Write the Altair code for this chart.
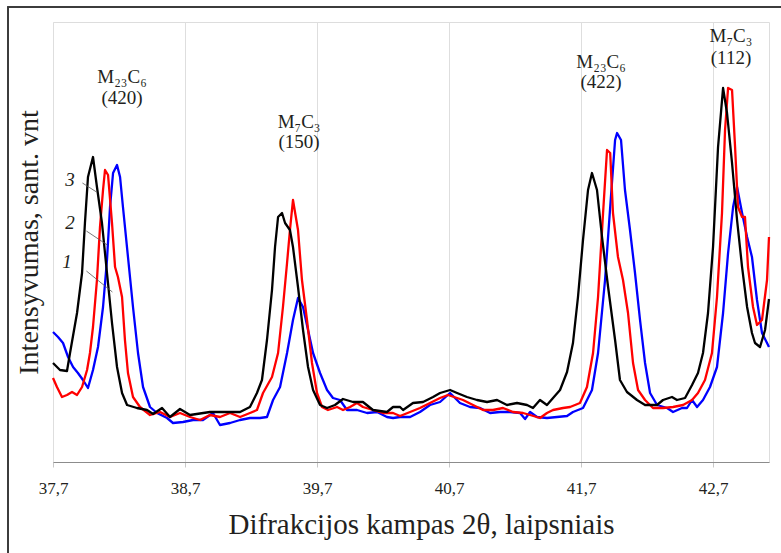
import altair as alt
import pandas as pd

# ---- data (2θ in degrees, intensity in arbitrary units) ----
x_black = [37.700, 37.753, 37.806, 37.829, 37.882, 37.920, 37.942, 37.965, 38.003, 38.033,
           38.071, 38.109, 38.147, 38.185, 38.223, 38.261, 38.336, 38.412, 38.458, 38.526,
           38.586, 38.662, 38.738, 38.889, 39.041, 39.117, 39.192, 39.245, 39.283, 39.321,
           39.359, 39.382, 39.405, 39.435, 39.458, 39.495, 39.518, 39.556, 39.594, 39.632,
           39.670, 39.723, 39.776, 39.836, 39.897, 39.973, 40.048, 40.124, 40.230, 40.276,
           40.329, 40.352, 40.427, 40.503, 40.579, 40.632, 40.708, 40.761, 40.836, 40.912,
           40.988, 41.064, 41.139, 41.215, 41.291, 41.336, 41.389, 41.442, 41.488, 41.541,
           41.594, 41.639, 41.677, 41.715, 41.753, 41.783, 41.821, 41.859, 41.905, 41.958,
           41.995, 42.048, 42.124, 42.185, 42.276, 42.321, 42.389, 42.427, 42.488, 42.541,
           42.586, 42.624, 42.662, 42.700, 42.738, 42.776, 42.806, 42.844, 42.882, 42.920,
           42.958, 42.995, 43.018, 43.056, 43.094, 43.124]
y_black = [99, 92, 91, 109, 149, 189, 239, 285, 305, 275,
           239, 189, 139, 95, 69, 57, 54, 52, 48, 54,
           45, 53, 47, 50, 50, 50, 55, 69, 82, 122,
           172, 215, 245, 249, 239, 232, 215, 175, 132, 95,
           72, 57, 54, 57, 63, 60, 60, 52, 50, 55,
           55, 52, 59, 60, 65, 69, 72, 69, 65, 62,
           60, 62, 57, 59, 57, 54, 62, 57, 64, 72,
           90, 119, 165, 222, 272, 289, 272, 225, 175, 122,
           82, 70, 62, 57, 57, 62, 65, 62, 64, 77,
           89, 109, 149, 215, 315, 374, 349, 299, 242, 195,
           155, 129, 119, 115, 132, 163]

x_red = [37.700, 37.730, 37.768, 37.806, 37.844, 37.882, 37.920, 37.958, 37.980, 38.003,
         38.033, 38.056, 38.079, 38.094, 38.117, 38.147, 38.170, 38.192, 38.223, 38.245,
         38.268, 38.306, 38.359, 38.435, 38.511, 38.586, 38.662, 38.738, 38.814, 38.889,
         38.965, 39.041, 39.117, 39.192, 39.245, 39.291, 39.359, 39.405, 39.442, 39.473,
         39.495, 39.518, 39.556, 39.586, 39.624, 39.662, 39.700, 39.738, 39.783, 39.852,
         39.897, 39.950, 40.003, 40.048, 40.124, 40.200, 40.276, 40.329, 40.405, 40.480,
         40.556, 40.632, 40.692, 40.761, 40.806, 40.882, 40.958, 41.033, 41.109, 41.185,
         41.261, 41.314, 41.389, 41.442, 41.488, 41.564, 41.617, 41.692, 41.745, 41.791,
         41.829, 41.867, 41.897, 41.921, 41.942, 41.980, 42.018, 42.056, 42.094, 42.132,
         42.185, 42.245, 42.321, 42.397, 42.473, 42.541, 42.586, 42.639, 42.692, 42.730,
         42.768, 42.791, 42.814, 42.844, 42.867, 42.889, 42.920, 42.942, 42.965, 43.003,
         43.033, 43.071, 43.109, 43.124]
y_red = [84, 75, 65, 67, 70, 67, 75, 92, 109, 135,
         182, 235, 272, 292, 287, 239, 195, 185, 165, 122,
         89, 65, 55, 47, 50, 45, 49, 45, 42, 47,
         45, 49, 45, 49, 52, 69, 85, 109, 155, 199,
         232, 262, 232, 182, 142, 99, 69, 55, 52, 55,
         52, 55, 59, 55, 52, 49, 49, 46, 50, 54,
         59, 64, 67, 64, 62, 57, 52, 52, 54, 50,
         49, 47, 44, 49, 52, 54, 55, 59, 75, 109,
         165, 249, 312, 309, 249, 205, 182, 149, 99, 72,
         62, 54, 54, 55, 57, 62, 69, 82, 109, 165,
         249, 332, 374, 372, 315, 255, 245, 245, 195, 155,
         137, 142, 182, 225]

x_blue = [37.700, 37.738, 37.776, 37.814, 37.852, 37.889, 37.927, 37.965, 38.003, 38.041,
          38.079, 38.109, 38.132, 38.155, 38.185, 38.208, 38.230, 38.268, 38.306, 38.344,
          38.382, 38.435, 38.488, 38.564, 38.609, 38.685, 38.761, 38.836, 38.912, 38.965,
          39.041, 39.117, 39.192, 39.268, 39.321, 39.367, 39.420, 39.473, 39.518, 39.556,
          39.594, 39.632, 39.670, 39.723, 39.776, 39.821, 39.874, 39.927, 40.003, 40.079,
          40.155, 40.230, 40.276, 40.329, 40.405, 40.480, 40.556, 40.632, 40.708, 40.783,
          40.859, 40.935, 41.011, 41.086, 41.162, 41.238, 41.276, 41.314, 41.367, 41.442,
          41.518, 41.594, 41.639, 41.715, 41.783, 41.829, 41.882, 41.921, 41.958, 41.973,
          42.003, 42.033, 42.071, 42.109, 42.147, 42.185, 42.223, 42.276, 42.352, 42.397,
          42.465, 42.503, 42.541, 42.579, 42.624, 42.677, 42.730, 42.776, 42.814, 42.852,
          42.882, 42.920, 42.958, 42.995, 43.033, 43.071, 43.109, 43.124]
y_blue = [130, 125, 119, 105, 95, 89, 82, 74, 92, 115,
          155, 202, 255, 289, 297, 285, 255, 205, 155, 109,
          75, 55, 49, 44, 39, 40, 42, 42, 49, 37,
          39, 42, 44, 44, 45, 62, 75, 109, 142, 164,
          155, 132, 109, 89, 72, 64, 62, 52, 52, 49,
          50, 45, 44, 45, 45, 50, 57, 60, 69, 59,
          55, 54, 49, 50, 50, 49, 43, 50, 45, 44,
          45, 46, 50, 54, 72, 109, 182, 255, 322, 329,
          322, 272, 232, 189, 142, 99, 69, 57, 54, 50,
          54, 54, 62, 55, 62, 75, 95, 149, 209, 255,
          275, 249, 225, 205, 162, 129, 119, 115]

tick_values = [37.7, 38.7, 39.7, 40.7, 41.7, 42.7]

ann_text = ["M₂₃C₆", "(420)", "M₇C₃", "(150)", "M₂₃C₆", "(422)", "M₇C₃", "(112)"]
ann_x = [38.223, 38.223, 39.564, 39.564, 41.852, 41.852, 42.836, 42.836]
ann_y = [385, 364, 340, 320, 400, 380, 426, 404]

curve_labels = ["3", "2", "1"]
curve_label_x = [37.829, 37.829, 37.806]
curve_label_y = [282, 239, 200]
leader_x1 = [37.923, 37.953, 37.953]
leader_y1 = [279, 231, 191]
leader_x2 = [38.030, 38.112, 38.150]
leader_y2 = [270, 217, 170]

FONT = "Liberation Serif"
TEXT_COLOR = "#231f20"

df_black = pd.DataFrame({"x": x_black, "y": y_black})
df_red = pd.DataFrame({"x": x_red, "y": y_red})
df_blue = pd.DataFrame({"x": x_blue, "y": y_blue})
df_ann = pd.DataFrame({"x": ann_x, "y": ann_y, "t": ann_text})
df_lab = pd.DataFrame({"x": curve_label_x, "y": curve_label_y, "t": curve_labels})
df_lead = pd.DataFrame({"x": leader_x1, "y": leader_y1, "x2": leader_x2, "y2": leader_y2})

xscale = alt.Scale(domain=[37.7, 43.124], nice=False, zero=False)
yscale = alt.Scale(domain=[0, 440], nice=False, zero=False)

xaxis = alt.Axis(
    values=tick_values,
    labelExpr="replace(format(datum.value, '.1f'), '.', ',')",
    title="Difrakcijos kampas 2θ, laipsniais",
    grid=True, gridColor="#dedede", gridWidth=1,
    domainColor="#8c8c8c", domainWidth=1.2,
    tickColor="#c8c8c8", tickSize=5,
    labelFont=FONT, labelFontSize=17, labelColor=TEXT_COLOR,
    labelBaseline="alphabetic", labelPadding=26, labelFlush=False, labelAlign="center",
    titleFont=FONT, titleFontSize=29, titleFontWeight="normal", titleColor=TEXT_COLOR,
    titleBaseline="alphabetic", titleX=368, titleY=71, titleAnchor="middle",
)
yaxis = alt.Axis(
    labels=False, ticks=False, grid=False, domain=False,
    title="Intensyvumas, sant. vnt",
    titleFont=FONT, titleFontSize=28, titleFontWeight="normal", titleColor=TEXT_COLOR,
    titleAngle=-90, titleBaseline="alphabetic", titleAlign="center",
    titleX=-16, titleY=220,
)


def curve(df, color):
    return alt.Chart(df).mark_line(color=color, strokeWidth=2.3, strokeJoin="round").encode(
        x=alt.X("x:Q", scale=xscale, axis=xaxis),
        y=alt.Y("y:Q", scale=yscale, axis=yaxis),
        order="x:Q",
    )


frame = alt.Chart(df_lab).mark_rect(fillOpacity=0, stroke="#3a3a3a", strokeWidth=1.5).encode(
    x=alt.value(-45), x2=alt.value(740), y=alt.value(-15), y2=alt.value(540)
)

leaders = alt.Chart(df_lead).mark_rule(color="#555555", strokeWidth=0.8).encode(
    x=alt.X("x:Q", scale=xscale, axis=xaxis), y=alt.Y("y:Q", scale=yscale, axis=yaxis),
    x2="x2:Q", y2="y2:Q",
)

labels = alt.Chart(df_lab).mark_text(
    font=FONT, fontSize=19, fontStyle="italic", color=TEXT_COLOR, align="center", baseline="middle"
).encode(x=alt.X("x:Q", scale=xscale, axis=xaxis), y=alt.Y("y:Q", scale=yscale, axis=yaxis), text="t:N")

ann = alt.Chart(df_ann).mark_text(
    font=FONT, fontSize=19, color=TEXT_COLOR, align="center", baseline="middle"
).encode(x=alt.X("x:Q", scale=xscale, axis=xaxis), y=alt.Y("y:Q", scale=yscale, axis=yaxis), text="t:N")

chart = alt.layer(
    curve(df_blue, "#0000ff"),
    curve(df_red, "#ff0000"),
    curve(df_black, "#000000"),
    leaders, labels, ann, frame,
).properties(
    width=716, height=440,
    autosize=alt.AutoSizeParams(type="none"),
    padding={"left": 53, "top": 22, "right": 12, "bottom": 91},
).configure_view(
    stroke="#9a9a9a", strokeWidth=1.2
).configure_axis(
    labelFont=FONT, titleFont=FONT
).configure_text(
    font=FONT
).configure(background="white")

chart.save("out.html", embed_options={"renderer": "svg", "actions": False})
